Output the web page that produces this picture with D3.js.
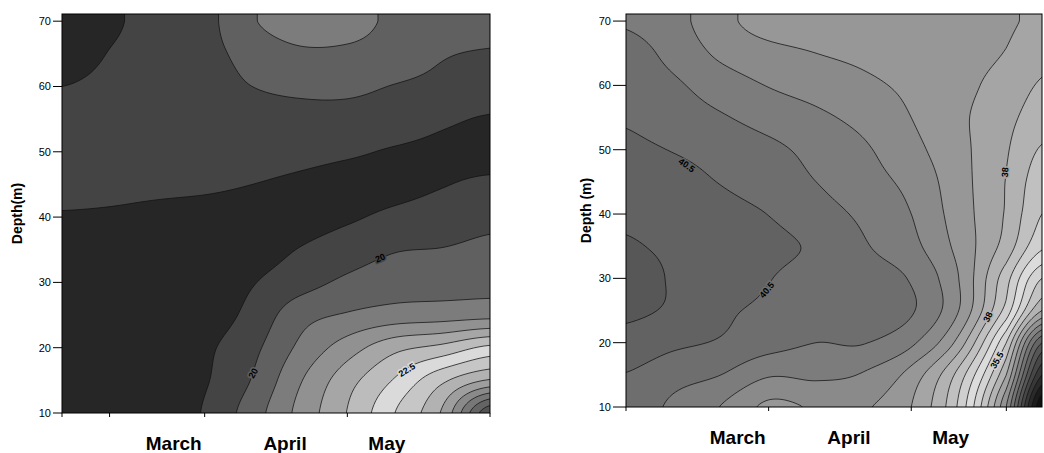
<!DOCTYPE html>
<html>
<head>
<meta charset="utf-8">
<script src="https://cdn.jsdelivr.net/npm/d3@7"></script>
<style>
  body { margin: 0; background: #fff; }
  text { font-family: "Liberation Sans", Arial, sans-serif; }
</style>
</head>
<body>
<svg width="1044" height="453"></svg>
<script>
// --- Data ---
const months = ['March', 'April', 'May'];
const monthDay = [23.5, 46.9, 68.3];
const depthTicks = [10, 20, 30, 40, 50, 60, 70];
const depths = [10, 15, 20, 25, 30, 35, 40, 45, 50, 55, 60, 65, 70];

// left panel: grid rows go from depth 10 (bottom) to 70 (top)
const leftDays = [0, 10, 20, 30, 40, 50, 60, 70, 80, 90];
const leftTicks = [0, 10, 30, 60, 90];
const leftGrid = [
  [19.1, 19.05, 19.1, 19.55, 20.26, 21.15, 22.02, 23.0, 24.08, 26.4],
  [19.1, 19.05, 19.1, 19.45, 20.03, 20.95, 21.8, 22.55, 23.4, 24.05],
  [19.1, 19.05, 19.1, 19.4, 19.87, 20.6, 21.25, 21.85, 22.15, 22.62],
  [19.15, 19.1, 19.15, 19.25, 19.65, 20.3, 20.55, 20.72, 20.78, 20.85],
  [19.15, 19.1, 19.15, 19.2, 19.47, 19.8, 20.1, 20.26, 20.3, 20.35],
  [19.2, 19.2, 19.2, 19.2, 19.3, 19.52, 19.76, 19.97, 20.02, 20.12],
  [19.45, 19.42, 19.36, 19.32, 19.3, 19.32, 19.44, 19.6, 19.72, 19.86],
  [19.68, 19.66, 19.62, 19.58, 19.5, 19.42, 19.36, 19.38, 19.48, 19.58],
  [19.74, 19.76, 19.76, 19.74, 19.7, 19.64, 19.56, 19.46, 19.4, 19.36],
  [19.7, 19.74, 19.78, 19.82, 19.86, 19.88, 19.84, 19.76, 19.58, 19.46],
  [19.5, 19.64, 19.74, 19.84, 20.0, 20.08, 20.1, 19.98, 19.88, 19.8],
  [19.2, 19.52, 19.7, 19.86, 20.16, 20.4, 20.4, 20.26, 20.04, 19.96],
  [19.1, 19.4, 19.7, 19.85, 20.45, 20.8, 20.7, 20.4, 20.3, 20.2]
];
const leftLevels = [19.5, 20, 20.5, 21, 21.5, 22, 22.5, 23, 23.5, 24, 24.5, 25, 25.5, 26];
const leftColors = ['#262626', '#444444', '#606060', '#7c7c7c', '#919191', '#a6a6a6', '#bcbcbc',
  '#dadada', '#c6c6c6', '#b2b2b2', '#9e9e9e', '#8a8a8a', '#777777', '#646464', '#525252'];
const leftLabels = [
  { text: '20', day: 40.2, depth: 16.1, angle: -62 },
  { text: '20', day: 66.9, depth: 33.75, angle: -22 },
  { text: '22.5', day: 72.5, depth: 16.6, angle: -32 }
];

// right panel
const rightDays = [0, 10, 20, 30, 40, 50, 60, 70, 80, 87.5];
const rightTicks = [0, 30, 60, 80];
const rightGrid = [
  [40.3, 39.9, 39.48, 38.9, 39.05, 39.05, 38.5, 36.9, 33.5, 29.0],
  [40.48, 40.2, 40.0, 39.55, 39.6, 39.45, 38.8, 37.3, 34.5, 30.5],
  [40.82, 40.6, 40.45, 40.2, 40.0, 40.02, 39.6, 38.3, 35.5, 32.0],
  [41.1, 40.92, 40.6, 40.4, 40.3, 40.2, 40.05, 39.0, 36.8, 34.5],
  [41.25, 40.95, 40.78, 40.52, 40.32, 40.2, 39.95, 39.0, 37.2, 35.5],
  [41.05, 40.9, 40.75, 40.62, 40.42, 40.05, 39.65, 38.85, 37.8, 36.6],
  [40.92, 40.8, 40.67, 40.49, 40.2, 39.9, 39.5, 38.75, 37.95, 37.0],
  [40.75, 40.65, 40.48, 40.25, 40.0, 39.7, 39.35, 38.7, 37.98, 37.2],
  [40.6, 40.48, 40.33, 40.12, 39.85, 39.57, 39.15, 38.65, 38.05, 37.45],
  [40.45, 40.25, 40.05, 39.8, 39.6, 39.35, 39.0, 38.6, 38.15, 37.75],
  [40.3, 40.08, 39.75, 39.48, 39.3, 39.1, 38.9, 38.65, 38.3, 37.95],
  [40.2, 39.85, 39.4, 39.15, 39.0, 38.9, 38.8, 38.68, 38.48, 38.15],
  [39.95, 39.68, 39.15, 38.8, 38.78, 38.75, 38.7, 38.64, 38.56, 38.4]
];
const rightLevels = [29.5, 30, 30.5, 31, 31.5, 32, 32.5, 33, 33.5, 34, 34.5, 35, 35.5, 36,
  36.5, 37, 37.5, 38, 38.5, 39, 39.5, 40, 40.5, 41];
const rightColors = ['#101010', '#1c1c1c', '#2a2a2a', '#383838', '#474747', '#565656', '#656565',
  '#747474', '#838383', '#939393', '#a3a3a3', '#b3b3b3', '#c3c3c3', '#d3d3d3', '#dcdcdc',
  '#cfcfcf', '#c0c0c0', '#b2b2b2', '#a5a5a5', '#979797', '#8a8a8a', '#7c7c7c', '#6e6e6e',
  '#626262', '#575757'];
const rightLabels = [
  { text: '40.5', day: 12.8, depth: 47.6, angle: 35 },
  { text: '40.5', day: 29.6, depth: 28.2, angle: -50 },
  { text: '38', day: 79.7, depth: 46.5, angle: -85 },
  { text: '38', day: 76.1, depth: 24, angle: -65 },
  { text: '35.5', day: 78, depth: 17.3, angle: -60 }
];

const svg = d3.select('svg');

// smooth sampling of a coarse grid (catmull-rom both ways)
function makeSampler(days, grid) {
  const fx = d3.scaleLinear().domain(days).range(d3.range(days.length)).clamp(true);
  const fy = d3.scaleLinear().domain(depths).range(d3.range(depths.length)).clamp(true);
  const nx = days.length, ny = depths.length;
  const at = (i, j) => grid[Math.max(0, Math.min(ny - 1, j))][Math.max(0, Math.min(nx - 1, i))];
  const cr = (p0, p1, p2, p3, t) =>
    p1 + 0.5 * t * (p2 - p0 + t * (2 * p0 - 5 * p1 + 4 * p2 - p3 + t * (3 * (p1 - p2) + p3 - p0)));
  return (d, z) => {
    const u = fx(d), v = fy(z);
    const i = Math.min(Math.floor(u), nx - 2), j = Math.min(Math.floor(v), ny - 2);
    const tu = u - i, tv = v - j;
    const rows = [-1, 0, 1, 2].map(k => cr(at(i - 1, j + k), at(i, j + k), at(i + 1, j + k), at(i + 2, j + k), tu));
    return cr(rows[0], rows[1], rows[2], rows[3], tv);
  };
}

function drawPanel(p) {
  const x = d3.scaleLinear().domain([0, p.dayMax]).range([p.left, p.right]);
  const y = d3.scaleLinear().domain([10, 71.1]).range([p.bottom, p.top]);
  const sample = makeSampler(p.days, p.grid);
  const g = svg.append('g');

  g.append('clipPath').attr('id', p.id + '-clip')
    .append('rect')
    .attr('x', p.left).attr('y', p.top)
    .attr('width', p.right - p.left).attr('height', p.bottom - p.top);

  const body = g.append('g').attr('clip-path', `url(#${p.id}-clip)`);
  body.append('rect')
    .attr('x', p.left).attr('y', p.top)
    .attr('width', p.right - p.left).attr('height', p.bottom - p.top)
    .attr('fill', p.colors[0]);

  // --- contour grid in pixel space ---
  const step = 2, pad = 3;
  const nx = Math.ceil((p.right - p.left) / step) + 2 * pad + 1;
  const ny = Math.ceil((p.bottom - p.top) / step) + 2 * pad + 1;
  const vals = new Array(nx * ny);
  for (let j = 0; j < ny; j++) {
    for (let i = 0; i < nx; i++) {
      const px = p.left + (i - pad) * step;
      const py = p.top + (j - pad) * step;
      vals[j * nx + i] = sample(x.invert(px), y.invert(py));
    }
  }
  const contours = d3.contours().size([nx, ny]).thresholds(p.levels)(vals);
  const path = d3.geoPath(d3.geoTransform({
    point(cx, cy) {
      this.stream.point(p.left + (cx - 0.5 - pad) * step, p.top + (cy - 0.5 - pad) * step);
    }
  }));

  body.selectAll('path.band')
    .data(contours)
    .join('path')
    .attr('class', 'band')
    .attr('d', path)
    .attr('fill', (d, k) => p.colors[k + 1])
    .attr('stroke', '#111')
    .attr('stroke-width', 0.75);

  // --- contour labels ---
  const bandColor = v => p.colors[d3.bisectRight(p.levels, v)];
  p.labels.forEach(l => {
    g.append('text')
      .attr('transform', `translate(${x(l.day)},${y(l.depth)}) rotate(${l.angle})`)
      .attr('text-anchor', 'middle')
      .attr('dy', '0.35em')
      .attr('font-size', 9)
      .attr('font-weight', 'bold')
      .attr('fill', '#000')
      .attr('stroke', bandColor(sample(l.day, l.depth)))
      .attr('stroke-width', 3)
      .attr('paint-order', 'stroke')
      .text(l.text);
  });

  // --- frame ---
  g.append('rect')
    .attr('x', p.left).attr('y', p.top)
    .attr('width', p.right - p.left).attr('height', p.bottom - p.top)
    .attr('fill', 'none').attr('stroke', '#000').attr('stroke-width', 1);

  // --- y axis ---
  depthTicks.forEach(v => {
    g.append('line')
      .attr('x1', p.left - p.tickLen).attr('x2', p.left)
      .attr('y1', y(v)).attr('y2', y(v))
      .attr('stroke', '#000').attr('stroke-width', 1);
    g.append('text')
      .attr('x', p.left - p.tickLen - 2).attr('y', y(v))
      .attr('dy', '0.35em')
      .attr('text-anchor', 'end')
      .attr('font-size', 11)
      .text(v);
  });
  g.append('text')
    .attr('transform', `translate(${p.titleX},${(p.top + p.bottom) / 2}) rotate(-90)`)
    .attr('text-anchor', 'middle')
    .attr('dy', '0.35em')
    .attr('font-size', 14)
    .attr('font-weight', 'bold')
    .text(p.title);

  // --- x axis ---
  p.ticks.forEach(t => {
    g.append('line')
      .attr('x1', x(t)).attr('x2', x(t))
      .attr('y1', p.bottom).attr('y2', p.bottom + 4)
      .attr('stroke', '#000').attr('stroke-width', 1);
  });
  months.forEach((m, k) => {
    g.append('text')
      .attr('x', x(monthDay[k])).attr('y', p.bottom + 37)
      .attr('text-anchor', 'middle')
      .attr('font-size', 19)
      .attr('font-weight', 'bold')
      .text(m);
  });
}

drawPanel({
  id: 'left', left: 62, right: 490, top: 14, bottom: 413, dayMax: 90,
  days: leftDays, grid: leftGrid, levels: leftLevels, colors: leftColors,
  labels: leftLabels, ticks: leftTicks, tickLen: 9, titleX: 17, title: 'Depth(m)'
});
drawPanel({
  id: 'right', left: 626, right: 1042, top: 14, bottom: 407, dayMax: 87.5,
  days: rightDays, grid: rightGrid, levels: rightLevels, colors: rightColors,
  labels: rightLabels, ticks: rightTicks, tickLen: 13, titleX: 586, title: 'Depth (m)'
});
</script>
</body>
</html>
